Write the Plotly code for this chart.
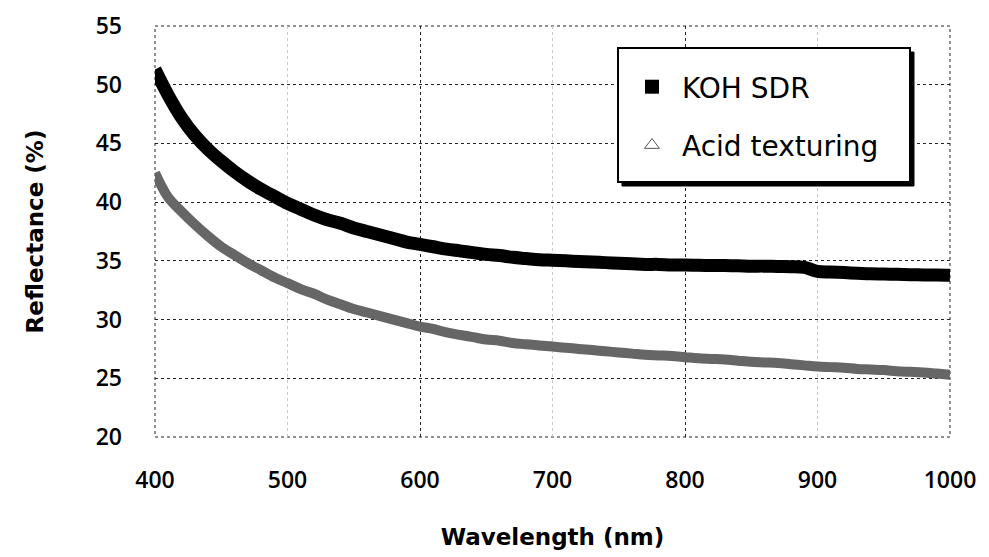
import plotly.graph_objects as go

wavelength = list(range(400, 1001, 10))

koh_sdr = [
    51.3, 49.1, 47.2, 45.7, 44.5, 43.5, 42.6, 41.8, 41.1, 40.5,
    39.9, 39.4, 38.9, 38.5, 38.2, 37.8, 37.5, 37.2, 36.9, 36.6,
    36.4, 36.2, 36.0, 35.85, 35.7, 35.55, 35.45, 35.3, 35.2, 35.1,
    35.05, 35.0, 34.95, 34.9, 34.85, 34.8, 34.75, 34.7, 34.7, 34.65,
    34.65, 34.62, 34.6, 34.6, 34.58, 34.55, 34.55, 34.52, 34.5, 34.45,
    34.1, 34.05, 34.0, 33.95, 33.9, 33.88, 33.85, 33.82, 33.8, 33.8,
    33.78,
]

acid_texturing = [
    42.5, 40.4, 39.2, 38.1, 37.1, 36.2, 35.5, 34.8, 34.2, 33.6,
    33.1, 32.6, 32.2, 31.7, 31.3, 30.9, 30.6, 30.3, 30.0, 29.7,
    29.4, 29.2, 28.9, 28.7, 28.5, 28.3, 28.2, 28.0, 27.9, 27.8,
    27.7, 27.6, 27.5, 27.4, 27.3, 27.2, 27.1, 27.0, 26.95, 26.9,
    26.8, 26.7, 26.65, 26.6, 26.5, 26.4, 26.35, 26.3, 26.2, 26.1,
    26.0, 25.95, 25.9, 25.8, 25.75, 25.7, 25.6, 25.55, 25.5, 25.4,
    25.3,
]

x_ticks = [400, 500, 600, 700, 800, 900, 1000]
y_ticks = [20, 25, 30, 35, 40, 45, 50, 55]

FONT = "Open Sans"
TITLE_FONT = "DejaVu Sans"

fig = go.Figure()

fig.add_trace(go.Scatter(
    x=wavelength, y=acid_texturing, mode="lines",
    line=dict(color="#666666", width=10, shape="spline"),
    showlegend=False, hoverinfo="skip",
))
fig.add_trace(go.Scatter(
    x=wavelength, y=koh_sdr, mode="lines",
    line=dict(color="#000000", width=13, shape="spline"),
    showlegend=False, hoverinfo="skip",
))

# legend entries
fig.add_trace(go.Scatter(
    x=[None], y=[None], mode="markers", name="KOH SDR",
    marker=dict(symbol="square", color="black", size=14),
    legendgroup="a", xaxis="x2",
))
fig.add_trace(go.Scatter(
    x=[None], y=[None], mode="markers", name="Acid texturing",
    marker=dict(symbol="triangle-up-open", color="#555", size=13,
                line=dict(width=1)),
    legendgroup="b", xaxis="x2",
))

shapes = [
    # dotted plot frame
    dict(type="rect", xref="paper", yref="paper", x0=0, x1=1, y0=0, y1=1,
         line=dict(color="#222", width=1, dash="dot"), layer="below"),
    # legend shadow
    dict(type="rect", xref="paper", yref="paper",
         x0=0.5874, x1=0.9547, y0=0.6107, y1=0.9367,
         fillcolor="black", line=dict(color="black", width=1), layer="above"),
    # legend box
    dict(type="rect", xref="paper", yref="paper",
         x0=0.5824, x1=0.9497, y0=0.6204, y1=0.9465,
         fillcolor="white", line=dict(color="black", width=2), layer="above"),
]

fig.update_layout(
    width=981, height=549,
    margin=dict(l=147, r=39, t=18, b=120),
    paper_bgcolor="white", plot_bgcolor="white",
    font=dict(family=FONT, color="black"),
    shapes=shapes,
    xaxis=dict(
        range=[400, 1000], tickvals=x_ticks,
        showgrid=True, gridcolor="#c8c8c8", griddash="dot", gridwidth=1,
        zeroline=False, showline=False, automargin=False,
        tickfont=dict(size=23, weight=600),
        ticks="", ticklabelstandoff=27,
        title=dict(text="Wavelength (nm)",
                   font=dict(size=23, weight=700, family=TITLE_FONT), standoff=34),
    ),
    xaxis2=dict(
        range=[400, 1000], overlaying="x", tick0=400, dtick=200,
        showgrid=True, gridcolor="#222", griddash="dot", gridwidth=1,
        showticklabels=False, zeroline=False, showline=False, ticks="",
        automargin=False,
    ),
    yaxis=dict(
        range=[20, 55], tickvals=y_ticks,
        showgrid=True, gridcolor="#222", griddash="dot", gridwidth=1,
        zeroline=False, showline=False, automargin=False,
        tickfont=dict(size=23, weight=600),
        ticks="", ticklabelstandoff=32,
        title=dict(text="Reflectance (%)",
                   font=dict(size=23, weight=700, family=TITLE_FONT), standoff=45),
    ),
    legend=dict(
        x=0.5874, y=0.9124, xanchor="left", yanchor="top",
        bgcolor="rgba(0,0,0,0)", borderwidth=0,
        font=dict(size=28, family="DejaVu Sans"),
        traceorder="grouped", tracegroupgap=19,
        itemwidth=50,
    ),
)

fig.write_html("out.html")
